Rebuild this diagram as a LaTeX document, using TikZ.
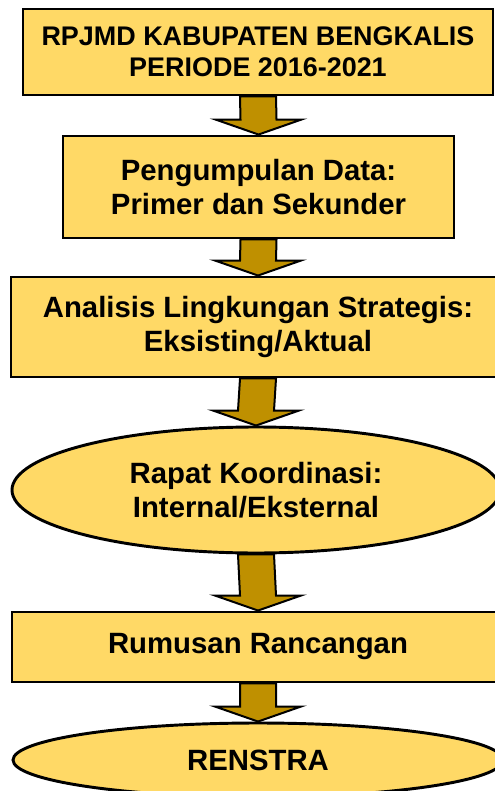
\documentclass[tikz,border=0pt]{standalone}
\usepackage{fontspec}
\setmainfont{Liberation Sans}
\usepackage{xcolor}
\usepackage{tikz}
\usetikzlibrary{calc,shapes.geometric,backgrounds}
\definecolor{planYellow}{HTML}{FFD966}
\definecolor{planGold}{HTML}{BF9000}
\tikzset{
  planBox/.style={
    rectangle,
    draw=black,
    fill=planYellow,
    line width=2.2pt,
    inner sep=0pt,
    align=center,
    font=\fontsize{22}{25.5}\selectfont\bfseries
  },
  planOval/.style={
    ellipse,
    draw=black,
    fill=planYellow,
    line width=2.2pt,
    inner sep=0pt,
    align=center,
    font=\fontsize{22}{25.5}\selectfont\bfseries
  },
  blockArrow/.style={
    draw=black,
    fill=planGold,
    line width=1.5pt,
    line join=miter
  }
}

\begin{document}
\begin{tikzpicture}[x=0.75pt,y=-0.75pt]
  \useasboundingbox (0,0) rectangle (494,791);
  \node[planBox,minimum width=352.5pt,minimum height=64.5pt,
    font=\fontsize{20.2}{23.3}\selectfont\bfseries] (rpjmd) at (258,52)
    {RPJMD KABUPATEN BENGKALIS\\PERIODE 2016-2021};
  \node[planBox,minimum width=293.25pt,minimum height=76.5pt] (data) at (258.5,187)
    {Pengumpulan Data:\\Primer dan Sekunder};
  \node[planBox,minimum width=370.5pt,minimum height=75pt] (analisis) at (258,327)
    {Analisis Lingkungan Strategis:\\Eksisting/Aktual};
  \node[planOval,minimum width=366pt,minimum height=94.5pt] (rapat) at (256,490)
    {Rapat Koordinasi:\\Internal/Eksternal};
  \node[planBox,minimum width=369pt,minimum height=52.5pt] (rumusan) at (258,647)
    {Rumusan Rancangan};
  \node[planOval,minimum width=367.5pt,minimum height=55.5pt] (renstra) at (258,760)
    {RENSTRA};
  % block arrows between the steps
  \begin{scope}[on background layer]
    \foreach \a/\b in {rpjmd/data,data/analisis,analisis/rapat,rapat/rumusan,rumusan/renstra}
      \draw[blockArrow] ($(\a.south)+(-18,0)$) -- ($(\b.north)+(-18,-15)$)
        -- ($(\b.north)+(-43,-15)$) -- (\b.north) -- ($(\b.north)+(43,-15)$)
        -- ($(\b.north)+(18,-15)$) -- ($(\a.south)+(18,0)$) -- cycle;
  \end{scope}
\end{tikzpicture}
\end{document}
